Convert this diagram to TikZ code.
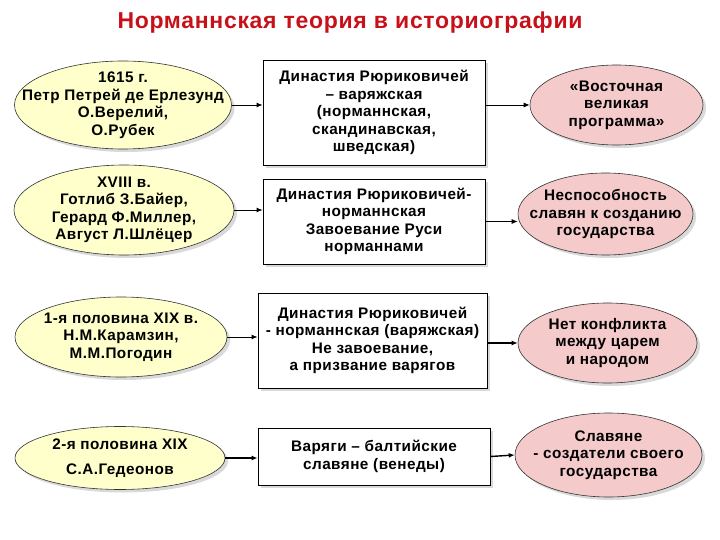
\documentclass[tikz,border=0pt]{standalone}
\usepackage{fontspec}
\setmainfont{Liberation Sans}[LetterSpace=3]
\usetikzlibrary{shapes.geometric,shadows,arrows.meta}
\definecolor{ylw}{HTML}{FFFFCC}
\definecolor{pnk}{HTML}{F5CACA}
\definecolor{ttl}{HTML}{C8101A}
\tikzset{
  x=1pt,y=-1pt,
  every node/.style={font=\fontsize{15.3}{17.5}\selectfont\bfseries, align=center, inner sep=0pt},
  shad/.style={drop shadow={shadow xshift=3pt,shadow yshift=-3pt,fill=black!15,opacity=1}},
  lell/.style={ellipse, draw=black!80, line width=0.6pt, fill=ylw, shad},
  rell/.style={ellipse, draw=black!80, line width=0.6pt, fill=pnk, shad},
  mbox/.style={rectangle, draw=black, line width=0.8pt, fill=white, shad},
  conn/.style={-{Latex[length=6pt,width=5pt]}, line width=0.9pt},
}
\begin{document}
\begin{tikzpicture}
\useasboundingbox (0,0) rectangle (720,540);
\node[font=\fontsize{23}{26}\selectfont\bfseries, text=ttl] (title) at (350,23) {Норманнская теория в историографии};

\node[lell, minimum width=217, minimum height=88] (l1) at (123,105) {};
\node (l1t) at (l1.center) {1615 г.\\Петр Петрей де Ерлезунд\\О.Верелий,\\О.Рубек};
\node[lell, minimum width=220, minimum height=90] (l2) at (124,210) {};
\node (l2t) at (l2.center) {XVIII в.\\Готлиб З.Байер,\\Герард Ф.Миллер,\\Август Л.Шлёцер};
\node[lell, minimum width=212, minimum height=80] (l3) at (121,337) {};
\node (l3t) at (l3.center) {1-я половина XIX в.\\Н.М.Карамзин,\\М.М.Погодин};
\node[lell, minimum width=210, minimum height=63] (l4) at (120,458) {};
\node (l4t) at (l4.center) {2-я половина XIX\\[7pt]С.А.Гедеонов};

\node[mbox, minimum width=222, minimum height=105] (b1) at (374,112.5) {Династия Рюриковичей\\– варяжская\\(норманнская,\\скандинавская,\\шведская)};
\node[mbox, minimum width=222, minimum height=85] (b2) at (374,221.5) {Династия Рюриковичей-\\норманнская\\Завоевание Руси\\норманнами};
\node[mbox, minimum width=229, minimum height=95] (b3) at (372.5,340.5) {Династия Рюриковичей\\- норманнская (варяжская)\\Не завоевание,\\а призвание варягов};
\node[mbox, minimum width=232, minimum height=57] (b4) at (374,456.5) {Варяги – балтийские\\славяне (венеды)};

\node[rell, minimum width=173, minimum height=80] (r1) at (616.5,105) {};
\node (r1t) at (r1.center) {«Восточная\\великая\\программа»};
\node[rell, minimum width=175, minimum height=82] (r2) at (605.5,214) {};
\node (r2t) at (r2.center) {Неспособность\\славян к созданию\\государства};
\node[rell, minimum width=179, minimum height=80] (r3) at (607.5,343) {};
\node (r3t) at (r3.center) {Нет конфликта\\между царем\\и народом};
\node[rell, minimum width=187, minimum height=84] (r4) at (608.5,455) {};
\node (r4t) at (r4.center) {Славяне\\- создатели своего\\государства};

\draw[conn] (l1.east) -- (l1.east -| b1.west);
\draw[conn] (l2.east) -- (l2.east -| b2.west);
\draw[conn] (l3.east) -- (l3.east -| b3.west);
\draw[conn, line width=1.6pt] (l4.east) -- (l4.east -| b4.west);

\draw[conn] (r1.west -| b1.east) -- (r1.west);
\draw[conn] (b2.east) -- (b2.east -| r2.west);
\draw[conn, line width=1.4pt] (r3.west -| b3.east) -- (r3.west);
\draw[conn, line width=1.4pt] (b4.east) -- (r4.west);
\end{tikzpicture}
\end{document}
